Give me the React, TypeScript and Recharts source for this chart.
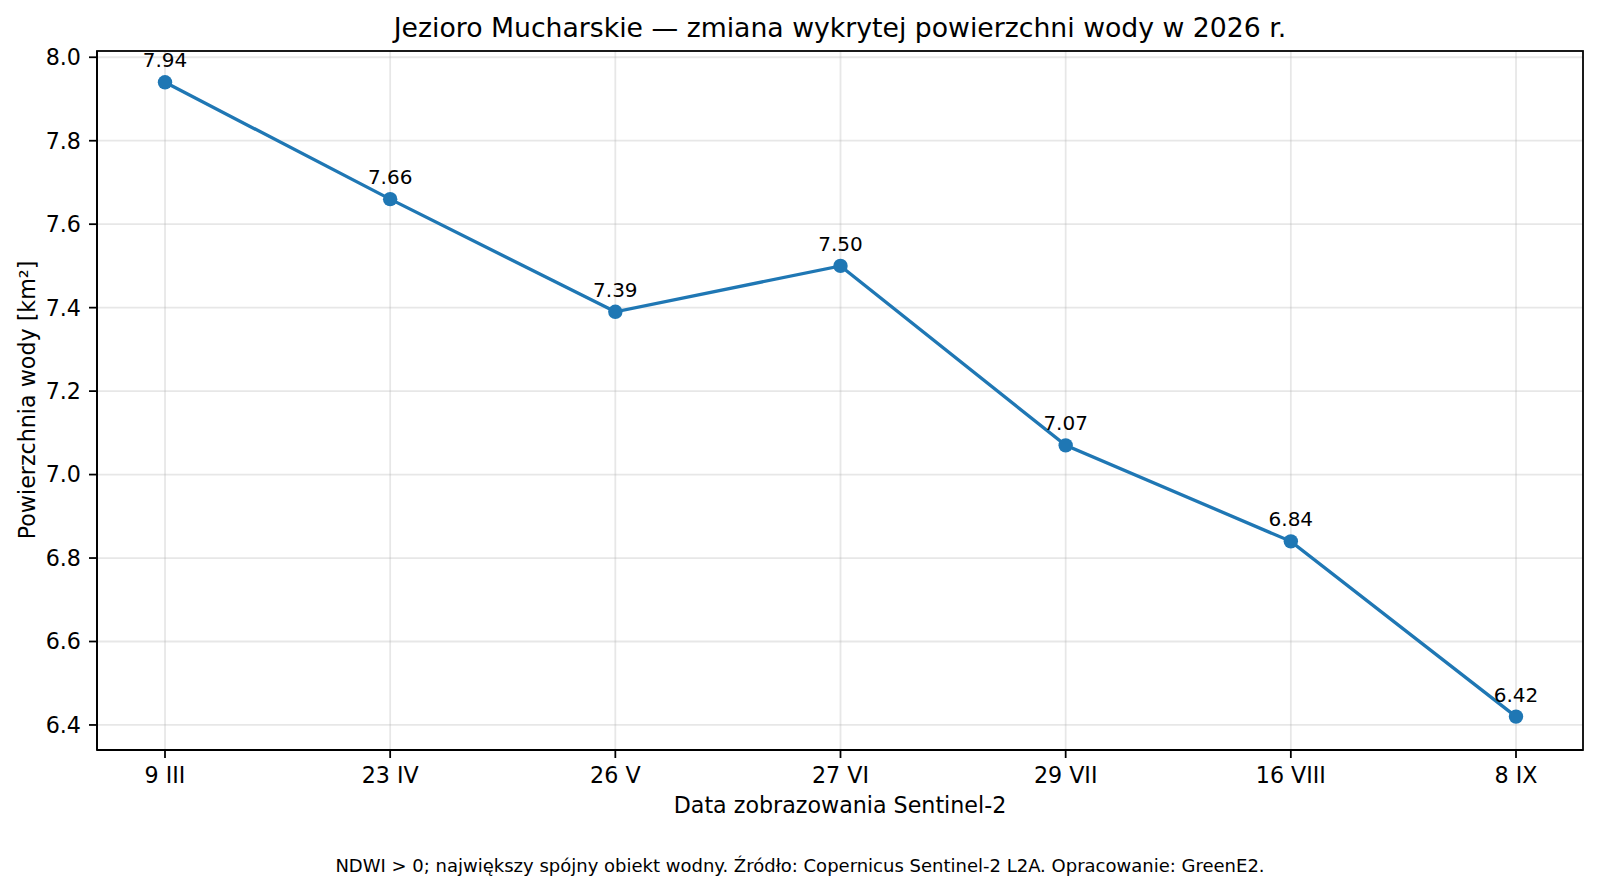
import React from 'react';
import { LineChart, Line, XAxis, YAxis, CartesianGrid, LabelList } from 'recharts';

const categories = ['9 III', '23 IV', '26 V', '27 VI', '29 VII', '16 VIII', '8 IX'];
const areaValues = [7.94, 7.66, 7.39, 7.5, 7.07, 6.84, 6.42];
const yTicks = [6.4, 6.6, 6.8, 7.0, 7.2, 7.4, 7.6, 7.8, 8.0];

const data = categories.map((c, i) => ({ date: c, area: areaValues[i] }));

const W = 1600;
const H = 891;
const FONT = '"DejaVu Sans", Verdana, sans-serif';
const BLUE = '#1f77b4';
const LW = 1.78;
const MARGIN = { top: 51, right: 17, bottom: 0, left: 0 };
const Y_AXIS_W = 97;
const X_AXIS_H = 141;

const renderLabel = (props: any) => {
  const { x, y, value } = props;
  return (
    <text x={x} y={y - 15} textAnchor="middle" fontSize={20} fontFamily={FONT} fill="#000">
      {Number(value).toFixed(2)}
    </text>
  );
};

export default function App() {
  const plotLeft = MARGIN.left + Y_AXIS_W;
  const plotTop = MARGIN.top;
  const plotW = W - plotLeft - MARGIN.right;
  const plotH = H - plotTop - X_AXIS_H - MARGIN.bottom;
  return (
    <div style={{ position: 'relative', width: W, height: H, background: '#fff' }}>
      <style>{`body{margin:0;background:#fff;}`}</style>
      <LineChart width={W} height={H} data={data} margin={MARGIN}>
        <CartesianGrid stroke="#b0b0b0" strokeOpacity={0.3} strokeWidth={LW} />
        <XAxis
          dataKey="date"
          type="category"
          interval={0}
          padding={{ left: 68, right: 67 }}
          height={X_AXIS_H}
          tickSize={8}
          tickMargin={9}
          axisLine={{ stroke: '#000', strokeWidth: LW }}
          tickLine={{ stroke: '#000', strokeWidth: LW }}
          tick={{ fill: '#000', fontSize: 22.2, fontFamily: FONT }}
        />
        <YAxis
          type="number"
          domain={[6.34, 8.015]}
          ticks={yTicks}
          allowDataOverflow
          interval={0}
          width={Y_AXIS_W}
          tickSize={8}
          tickMargin={8}
          tickFormatter={(v: number) => v.toFixed(1)}
          axisLine={{ stroke: '#000', strokeWidth: LW }}
          tickLine={{ stroke: '#000', strokeWidth: LW }}
          tick={{ fill: '#000', fontSize: 22.2, fontFamily: FONT }}
        />
        <Line
          dataKey="area"
          stroke={BLUE}
          strokeWidth={3.33}
          isAnimationActive={false}
          dot={{ r: 7.2, fill: BLUE, stroke: BLUE, strokeWidth: 0 }}
          activeDot={false}
        >
          <LabelList dataKey="area" content={renderLabel} />
        </Line>
      </LineChart>
      <svg
        width={W}
        height={H}
        style={{ position: 'absolute', left: 0, top: 0, pointerEvents: 'none' }}
      >
        <rect x={plotLeft} y={plotTop} width={plotW} height={plotH} fill="none" stroke="#000" strokeWidth={LW} />
        <text x={840} y={37.3} textAnchor="middle" fontSize={26.7} fontFamily={FONT} fill="#000">
          Jezioro Mucharskie — zmiana wykrytej powierzchni wody w 2026 r.
        </text>
        <text x={840} y={812.7} textAnchor="middle" fontSize={22.2} fontFamily={FONT} fill="#000">
          Data zobrazowania Sentinel-2
        </text>
        <text
          x={35}
          y={400}
          textAnchor="middle"
          fontSize={22.2}
          fontFamily={FONT}
          fill="#000"
          transform="rotate(-90 35 400)"
        >
          Powierzchnia wody [km²]
        </text>
        <text x={800} y={871.5} textAnchor="middle" fontSize={18} fontFamily={FONT} fill="#000">
          NDWI &gt; 0; największy spójny obiekt wodny. Źródło: Copernicus Sentinel-2 L2A. Opracowanie: GreenE2.
        </text>
      </svg>
    </div>
  );
}
